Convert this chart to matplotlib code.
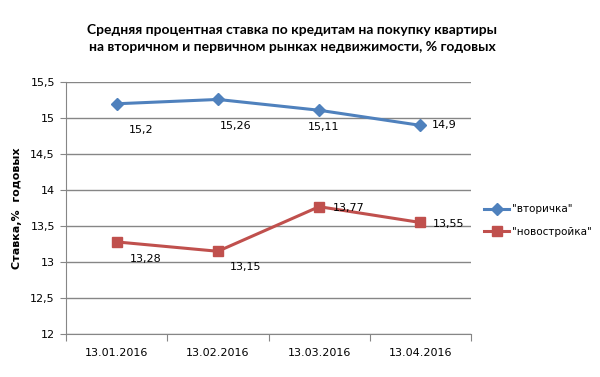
import matplotlib
matplotlib.use("Agg")
import matplotlib.pyplot as plt

# данные
dates = ["13.01.2016", "13.02.2016", "13.03.2016", "13.04.2016"]
vtorichka = [15.2, 15.26, 15.11, 14.9]
novostroyka = [13.28, 13.15, 13.77, 13.55]
yticks = [12, 12.5, 13, 13.5, 14, 14.5, 15, 15.5]
ytick_labels = ["12", "12,5", "13", "13,5", "14", "14,5", "15", "15,5"]

# смещения подписей (в пунктах)
off_v = [(18, -19), (13, -19), (3, -12), (17, 0)]
off_n = [(21, -12), (20, -11), (21, -1), (20, -1)]

fig = plt.figure(figsize=(6, 3.77), dpi=100)
ax = fig.add_axes([0.11, 0.114, 0.675, 0.668])

x = list(range(len(dates)))
ax.plot(x, vtorichka, color="#4F81BD", lw=2.2, marker="D", ms=6,
        label='"вторичка"')
ax.plot(x, novostroyka, color="#C0504D", lw=2.2, marker="s", ms=7,
        label='"новостройка"')

for i, v in enumerate(vtorichka):
    ax.annotate(str(v).replace(".", ","), (i, v), xytext=off_v[i],
                textcoords="offset points", ha="center", va="center",
                fontsize=8)
for i, v in enumerate(novostroyka):
    ax.annotate(str(v).replace(".", ","), (i, v), xytext=off_n[i],
                textcoords="offset points", ha="center", va="center",
                fontsize=8)

ax.set_xlim(-0.5, 3.5)
ax.set_ylim(12, 15.5)
ax.set_yticks(yticks)
ax.set_yticklabels(ytick_labels, fontsize=8)
ax.set_xticks([-0.5, 0.5, 1.5, 2.5, 3.5])
ax.set_xticklabels([])
ax.set_xticks(x, minor=True)
ax.set_xticklabels(dates, minor=True, fontsize=8)
ax.tick_params(axis="x", which="major", length=5, color="#868686", direction="out")
ax.tick_params(axis="x", which="minor", length=0, pad=10)
ax.tick_params(axis="y", length=4, color="#868686", pad=4)
ax.grid(axis="y", color="#868686", lw=1)
ax.set_axisbelow(True)
for s in ["top", "right"]:
    ax.spines[s].set_visible(False)
for s in ["left", "bottom"]:
    ax.spines[s].set_color("#868686")

ax.set_ylabel("Ставка,%  годовых", fontsize=8, fontweight="bold", labelpad=6)

fig.text(0.487, 0.898, "Средняя процентная ставка по кредитам на покупку квартиры\n"
         "на вторичном и первичном рынках недвижимости, % годовых",
         ha="center", va="center", fontsize=10, fontweight="bold",
         family=["Lato", "DejaVu Sans"], linespacing=1.55)

ax.legend(loc="center left", bbox_to_anchor=(1.012, 0.45), frameon=False,
          fontsize=7.5, handlelength=2.4, handletextpad=0.3, labelspacing=1.2,
          borderaxespad=0.4)

fig.savefig("out.png", dpi=100)
